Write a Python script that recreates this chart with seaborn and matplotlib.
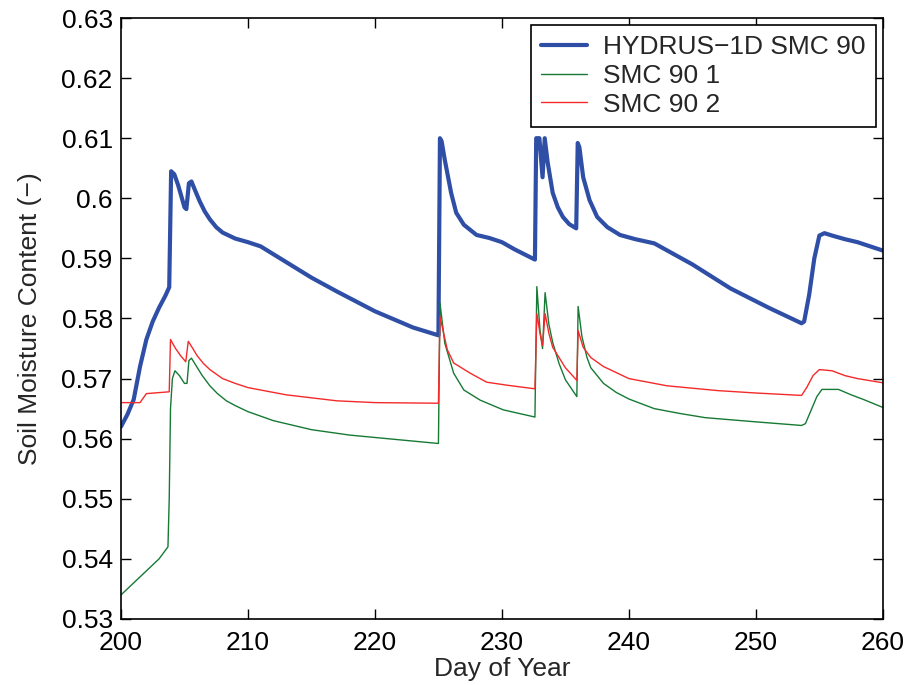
import numpy as np
import pandas as pd
import matplotlib
matplotlib.use("Agg")
import matplotlib.pyplot as plt
import seaborn as sns

# HYDRUS-1D SMC 90
hyd_day = [200, 200.5, 201, 201.5, 202, 202.5, 203, 203.5, 203.8, 203.95, 204.2, 204.5, 204.8, 205.0, 205.15, 205.35, 205.55, 205.8, 206.2, 206.6, 207, 207.5, 208, 209, 210, 211, 213, 215, 217, 220, 223, 225.0,
           225.12, 225.25, 225.5, 226.0, 226.4, 227, 228, 229, 230, 231, 232.6,
           232.7, 232.95, 233.2, 233.37, 233.6, 234.0, 234.4, 234.8, 235.3, 235.85,
           235.97, 236.1, 236.4, 236.9, 237.5, 238.3, 239.3, 240.5, 242, 245, 248, 251, 253.6,
           253.8, 254.2, 254.6, 255.0, 255.4, 256, 257, 258, 259, 260]
hyd_val = [0.5620, 0.5640, 0.5665, 0.5720, 0.5765, 0.5795, 0.5818, 0.5838, 0.5852, 0.6045, 0.6040, 0.6022, 0.6000, 0.5985, 0.5982, 0.6025, 0.6028, 0.6015, 0.5995, 0.5978, 0.5965, 0.5952, 0.5943, 0.5933, 0.5927, 0.5920, 0.5894, 0.5868, 0.5845, 0.5812, 0.5785, 0.5772,
           0.6100, 0.6095, 0.6064, 0.6009, 0.5976, 0.5956, 0.5939, 0.5934, 0.5927, 0.5915, 0.5898,
           0.6100, 0.6100, 0.6035, 0.6100, 0.6060, 0.6009, 0.5985, 0.5969, 0.5957, 0.5950,
           0.6092, 0.6085, 0.6035, 0.5997, 0.5969, 0.5952, 0.5939, 0.5932, 0.5925, 0.5890, 0.5850, 0.5818, 0.5792,
           0.5795, 0.5840, 0.5900, 0.5938, 0.5942, 0.5938, 0.5932, 0.5927, 0.5920, 0.5913]

# SMC 90 1
s1_day = [200, 201, 202, 203, 203.7, 203.8, 203.9, 204.05, 204.25, 204.6, 205.0, 205.2, 205.35, 205.55, 205.9, 206.4, 207, 207.6, 208.3, 209, 210, 212, 215, 218, 220, 222, 225.0,
          225.12, 225.5, 226.2, 227, 228.3, 230.1, 232.6,
          232.75, 233.0, 233.2, 233.4, 233.7, 234, 234.5, 235, 235.9,
          236.0, 236.3, 236.7, 237, 238, 239, 240, 242, 244, 246, 250, 253.6,
          253.9, 254.3, 254.8, 255.2, 256.5, 257.5, 258.5, 260]
s1_val = [0.5340, 0.5360, 0.5380, 0.5400, 0.5420, 0.5500, 0.5650, 0.5700, 0.5713, 0.5705, 0.5692, 0.5692, 0.5730, 0.5734, 0.5722, 0.5705, 0.5688, 0.5675, 0.5663, 0.5655, 0.5645, 0.5630, 0.5615, 0.5606, 0.5602, 0.5598, 0.5592,
          0.5826, 0.5759, 0.5709, 0.5681, 0.5664, 0.5648, 0.5636,
          0.5853, 0.5780, 0.5750, 0.5843, 0.5790, 0.5760, 0.5725, 0.5698, 0.5670,
          0.5820, 0.5770, 0.5735, 0.5718, 0.5692, 0.5677, 0.5666, 0.5650, 0.5642, 0.5635, 0.5628, 0.5622,
          0.5625, 0.5645, 0.5670, 0.5682, 0.5682, 0.5673, 0.5665, 0.5652]

# SMC 90 2
s2_day = [200, 201.5, 202.0, 203.8, 203.9, 204.3, 204.7, 205.1, 205.3, 205.6, 206, 206.5, 207, 208, 209, 210, 213, 217, 220, 225.0,
          225.12, 225.7, 226.2, 227.5, 228.8, 230.4, 232.6,
          232.75, 233.0, 233.2, 233.4, 233.7, 234, 235, 235.9,
          236.0, 236.4, 237, 238, 239, 240, 243, 247, 250, 253.6,
          254.0, 254.5, 255.0, 256, 257, 258, 260]
s2_val = [0.5660, 0.5660, 0.5675, 0.5678, 0.5765, 0.5750, 0.5738, 0.5728, 0.5762, 0.5752, 0.5738, 0.5725, 0.5715, 0.5700, 0.5692, 0.5685, 0.5673, 0.5663, 0.5660, 0.5659,
          0.5803, 0.5748, 0.5726, 0.5709, 0.5694, 0.5689, 0.5683,
          0.5808, 0.5775, 0.5755, 0.5808, 0.5775, 0.5752, 0.5718, 0.5697,
          0.5780, 0.5752, 0.5735, 0.5720, 0.5710, 0.5700, 0.5688, 0.5680, 0.5676, 0.5672,
          0.5685, 0.5705, 0.5715, 0.5713, 0.5705, 0.5700, 0.5693]

sns.set_theme(style="ticks")
plt.rcParams['font.family'] = ['Liberation Sans', 'DejaVu Sans']
plt.rcParams['xtick.direction'] = 'in'
plt.rcParams['ytick.direction'] = 'in'

fig = plt.figure(figsize=(9.13, 6.85), dpi=100)
ax = fig.add_axes([0.1325, 0.0964, 0.8345, 0.8773])

df_h = pd.DataFrame({"day": hyd_day, "smc": hyd_val})
df_1 = pd.DataFrame({"day": s1_day, "smc": s1_val})
df_2 = pd.DataFrame({"day": s2_day, "smc": s2_val})

sns.lineplot(data=df_h, x="day", y="smc", ax=ax, color="#2f4fa6", linewidth=3, label="HYDRUS\u22121D SMC 90", estimator=None, sort=False)
sns.lineplot(data=df_1, x="day", y="smc", ax=ax, color="#167a35", linewidth=1, label="SMC 90 1", estimator=None, sort=False)
sns.lineplot(data=df_2, x="day", y="smc", ax=ax, color="#f42a2a", linewidth=1, label="SMC 90 2", estimator=None, sort=False)

ax.set_xlim(200, 260)
ax.set_ylim(0.53, 0.63)
ax.set_xticks([200, 210, 220, 230, 240, 250, 260])
ax.set_yticks(np.round(np.arange(0.53, 0.6301, 0.01), 2))
ax.set_yticklabels(["0.53", "0.54", "0.55", "0.56", "0.57", "0.58", "0.59", "0.6", "0.61", "0.62", "0.63"])
ax.tick_params(axis='both', labelsize=19, length=7, width=1, colors='black', top=True, right=True)
ax.tick_params(axis='x', pad=9)
ax.tick_params(axis='y', pad=6)
for s in ax.spines.values():
    s.set_visible(True)
    s.set_color('black')
    s.set_linewidth(1.2)
ax.set_xlabel("Day of Year", fontsize=19, labelpad=1)
ax.set_ylabel("Soil Moisture Content (\u2212)", fontsize=19, labelpad=14)

leg = ax.legend(loc="upper right", fontsize=19, frameon=True, fancybox=False, framealpha=1,
                edgecolor='black', borderpad=0.4, labelspacing=0.18, handlelength=1.75,
                handletextpad=0.6, borderaxespad=0.25)
leg.get_frame().set_linewidth(1.2)

fig.savefig("out.png", dpi=100)
